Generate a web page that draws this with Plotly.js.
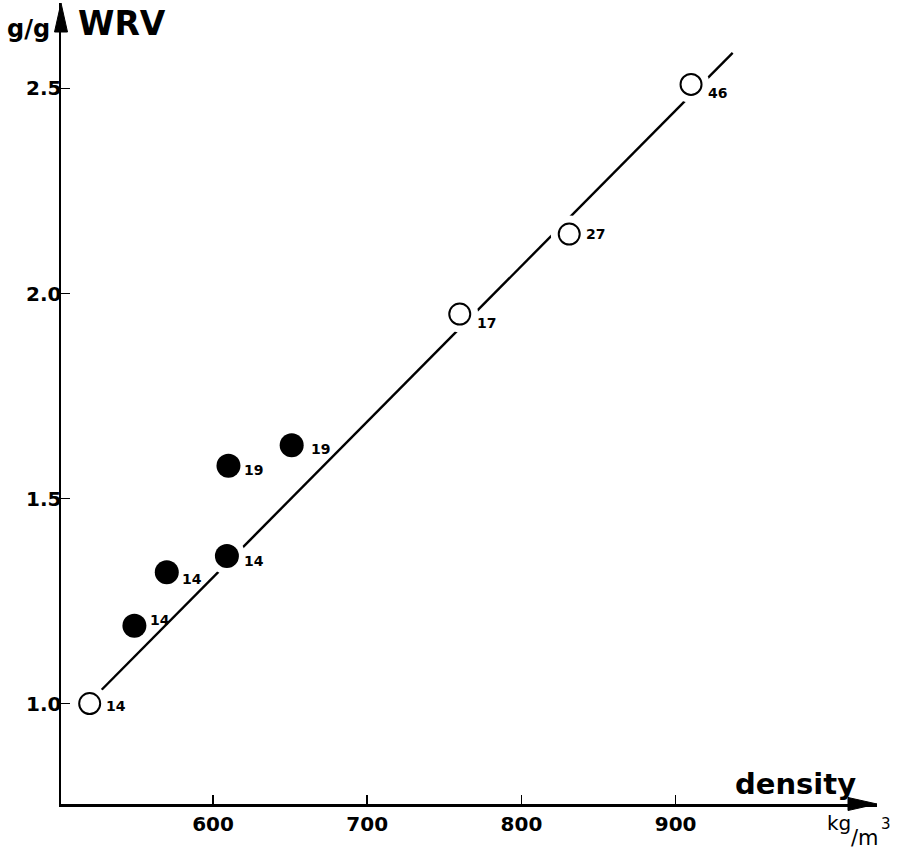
<!DOCTYPE html>
<html>
<head>
<meta charset="utf-8">
<script src="https://cdn.plot.ly/plotly-3.0.1.min.js"></script>
<style>
  html, body { margin: 0; padding: 0; background: #fff; }
  #chart { width: 904px; height: 853px; }
</style>
</head>
<body>
<div id="chart"></div>
<script>
// ---- data ----
const pointX      = [520, 549, 570, 609, 610, 651, 760, 831, 910];
const pointY      = [1.00, 1.19, 1.32, 1.36, 1.58, 1.63, 1.95, 2.145, 2.51];
const pointLabel  = ['14', '14', '14', '14', '19', '19', '17', '27', '46'];
const pointFilled = [false, true, true, true, true, true, false, false, false];

const fitX = [526, 937];
const fitY = [1.027, 2.587];

const xTickVals = [600, 700, 800, 900];
const xTickText = ['600', '700', '800', '900'];
const yTickVals = [1.0, 1.5, 2.0, 2.5];
const yTickText = ['1.0', '1.5', '2.0', '2.5'];

const xRange = [501.4, 1030.6];
const yRange = [0.755, 2.7085];

// ---- style (label offsets in pixels, positive dy = downward) ----
const labelDx = [14, 14, 13, 15, 14, 17, 15, 15, 15];
const labelDy = [2, -6, 7, 5, 4, 3.5, 8.5, 0, 9];

const W = 904, H = 853;
const M = {l: 61, r: 27, t: 3, b: 49};
const PW = W - M.l - M.r, PH = H - M.t - M.b;
const px2x = p => (p - M.l) / PW;
const px2y = p => (H - M.b - p) / PH;

const FONT = 'DejaVu Sans';

const openX = [], openY = [], fillX = [], fillY = [];
pointX.forEach((x, i) => {
  if (pointFilled[i]) { fillX.push(x); fillY.push(pointY[i]); }
  else { openX.push(x); openY.push(pointY[i]); }
});

const traces = [
  { x: fitX, y: fitY, mode: 'lines', type: 'scatter',
    line: {color: '#000', width: 2.4}, hoverinfo: 'skip', showlegend: false },
  { x: pointX, y: pointY, mode: 'markers', type: 'scatter',
    marker: {symbol: 'circle', size: 37, color: '#fff', line: {width: 0}},
    hoverinfo: 'skip', showlegend: false },
  { x: openX, y: openY, mode: 'markers', type: 'scatter',
    marker: {symbol: 'circle', size: 21, color: '#fff', line: {color: '#000', width: 2}},
    showlegend: false },
  { x: fillX, y: fillY, mode: 'markers', type: 'scatter',
    marker: {symbol: 'circle', size: 24, color: '#000', line: {width: 0}},
    showlegend: false }
];

const annotations = pointLabel.map((t, i) => ({
  x: pointX[i], y: pointY[i], xref: 'x', yref: 'y',
  text: t, showarrow: false, xanchor: 'left', yanchor: 'middle',
  xshift: labelDx[i], yshift: -labelDy[i],
  font: {family: FONT, size: 14, color: '#000', weight: 'bold'}
}));

const txt = (text, pxX, pxY, size, bold, xanchor) => ({
  x: px2x(pxX), y: px2y(pxY), xref: 'paper', yref: 'paper',
  text: text, showarrow: false,
  xanchor: xanchor || 'left', yanchor: 'middle',
  font: {family: FONT, size: size, color: '#000', weight: bold ? 'bold' : 'normal'}
});

annotations.push(
  txt('WRV', 76, 24, 33, true),
  txt('g/g', 5, 29, 24, true),
  txt('density', 733, 784, 29, true),
  txt('kg', 825, 823, 20, false),
  txt('/m', 849, 838, 21, false),
  txt('3', 879, 824, 15, false)
);

const aw = 6.5, al = 29;
const shapes = [
  { type: 'path', xref: 'paper', yref: 'paper',
    path: `M 0,1 L ${-aw / PW},${1 - al / PH} L ${aw / PW},${1 - al / PH} Z`,
    fillcolor: '#000', line: {color: '#000', width: 1} },
  { type: 'path', xref: 'paper', yref: 'paper',
    path: `M 1,0 L ${1 - al / PW},${aw / PH} L ${1 - al / PW},${-aw / PH} Z`,
    fillcolor: '#000', line: {color: '#000', width: 1} }
];

const axisCommon = {
  showline: true, linecolor: '#000', linewidth: 2.5,
  ticks: 'inside', ticklen: 9, tickwidth: 1.5, tickcolor: '#000',
  showgrid: false, zeroline: false, mirror: false, fixedrange: true,
  tickfont: {family: FONT, size: 20, color: '#000', weight: 'bold'}
};

const layout = {
  width: W, height: H, autosize: false,
  margin: M,
  paper_bgcolor: '#fff', plot_bgcolor: '#fff',
  showlegend: false,
  xaxis: Object.assign({}, axisCommon, {
    range: xRange, tickmode: 'array', tickvals: xTickVals, ticktext: xTickText
  }),
  yaxis: Object.assign({}, axisCommon, {
    range: yRange, tickmode: 'array', tickvals: yTickVals, ticktext: yTickText,
    ticklabelstandoff: -7
  }),
  annotations: annotations,
  shapes: shapes
};

Plotly.newPlot('chart', traces, layout, {displayModeBar: false, staticPlot: true});
</script>
</body>
</html>
